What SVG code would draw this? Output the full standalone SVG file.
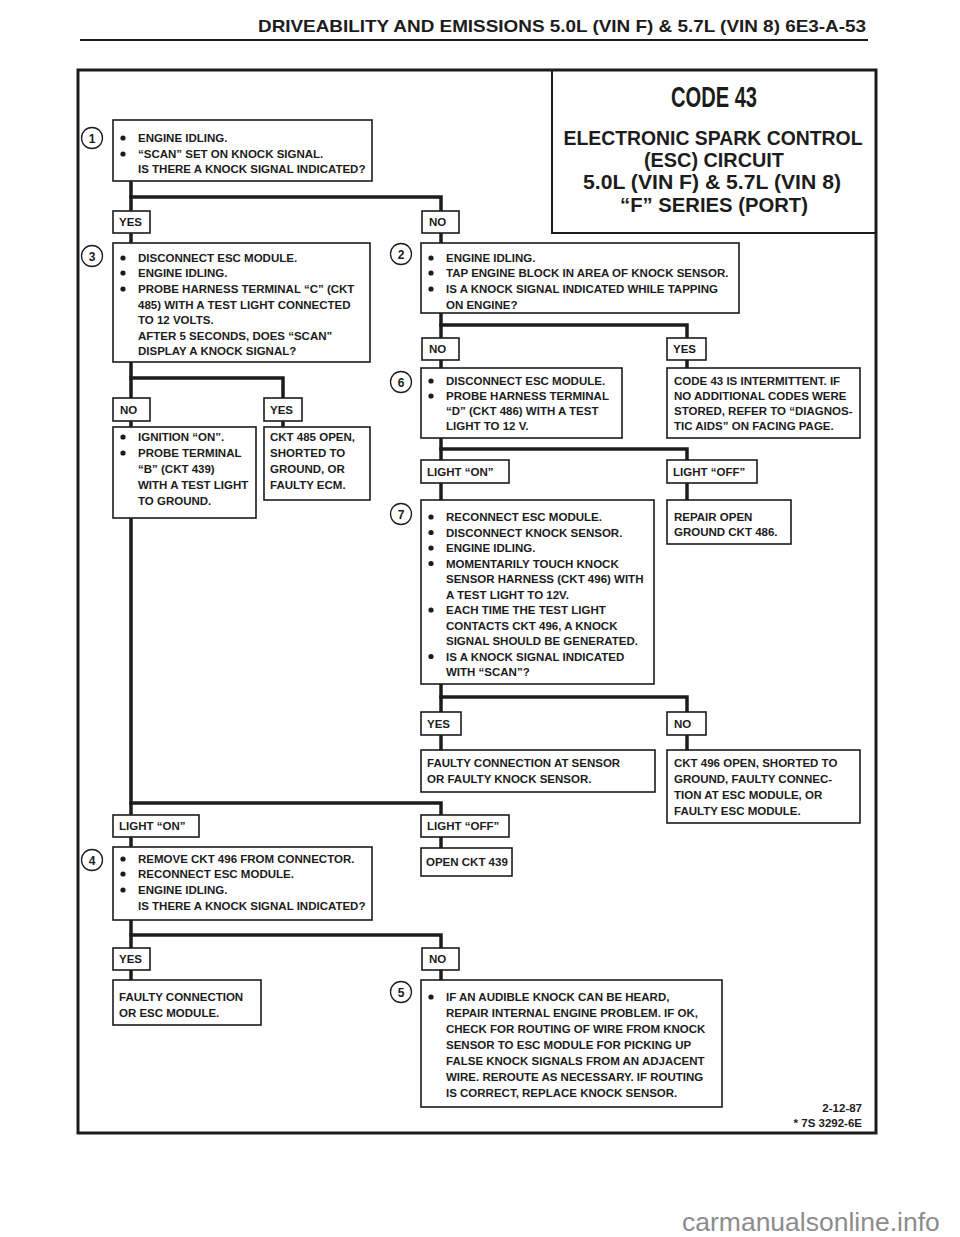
<svg xmlns="http://www.w3.org/2000/svg" width="960" height="1237" viewBox="0 0 960 1237">
<style>
.t{font-family:"Liberation Sans",Arial,sans-serif;font-weight:700;font-size:11.5px;fill:#1c1c1c}
.ti{font-family:"Liberation Sans",Arial,sans-serif;font-weight:700;fill:#1c1c1c;text-anchor:middle}
.n{font-family:"Liberation Sans",Arial,sans-serif;font-weight:700;font-size:12px;fill:#1c1c1c;text-anchor:middle}
.box{fill:#fff;stroke:#1c1c1c;stroke-width:1.6}
.lab{fill:#fff;stroke:#1c1c1c;stroke-width:1.6}
.num{fill:#fff;stroke:#1c1c1c;stroke-width:1.3}
.b{fill:#1c1c1c}
.c{fill:none;stroke:#1c1c1c;stroke-width:3.5;stroke-linecap:square}
</style>
<rect width="960" height="1237" fill="#fff"/>
<g id="header">
<text class="ti" x="562" y="32" font-size="17" textLength="608" lengthAdjust="spacingAndGlyphs">DRIVEABILITY AND EMISSIONS 5.0L (VIN F) &amp; 5.7L (VIN 8) 6E3-A-53</text>
<line x1="80" y1="40" x2="868" y2="40" stroke="#1c1c1c" stroke-width="2"/>
</g>
<rect x="78" y="70" width="798" height="1063" fill="none" stroke="#1c1c1c" stroke-width="3"/>
<g id="title">
<polyline points="552,70 552,233 876,233" fill="none" stroke="#1c1c1c" stroke-width="2"/>
<text class="ti" x="714" y="107" font-size="29" textLength="86" lengthAdjust="spacingAndGlyphs">CODE 43</text>
<text class="ti" x="713" y="145" font-size="21" textLength="299" lengthAdjust="spacingAndGlyphs">ELECTRONIC SPARK CONTROL</text>
<text class="ti" x="714" y="167" font-size="20" textLength="140" lengthAdjust="spacingAndGlyphs">(ESC) CIRCUIT</text>
<text class="ti" x="712" y="189" font-size="20" textLength="258" lengthAdjust="spacingAndGlyphs">5.0L (VIN F)  &amp;  5.7L (VIN 8)</text>
<text class="ti" x="714" y="212" font-size="20" textLength="188" lengthAdjust="spacingAndGlyphs">“F”  SERIES  (PORT)</text>
</g>
<g id="connectors">
<polyline class="c" points="131,181 131,211"/>
<polyline class="c" points="131,197 441,197 441,211"/>
<line class="c" x1="131" y1="233" x2="131" y2="243"/>
<line class="c" x1="441" y1="233" x2="441" y2="243"/>
<polyline class="c" points="131,362 131,398"/>
<polyline class="c" points="131,378 283,378 283,398"/>
<line class="c" x1="131" y1="421" x2="131" y2="427"/>
<line class="c" x1="283" y1="421" x2="283" y2="427"/>
<polyline class="c" points="441,313 441,338"/>
<polyline class="c" points="441,325 687,325 687,338"/>
<line class="c" x1="441" y1="360" x2="441" y2="368"/>
<line class="c" x1="687" y1="360" x2="687" y2="368"/>
<polyline class="c" points="441,438 441,460"/>
<polyline class="c" points="441,449 687,449 687,460"/>
<line class="c" x1="441" y1="483" x2="441" y2="500"/>
<line class="c" x1="687" y1="483" x2="687" y2="500"/>
<polyline class="c" points="441,684 441,712"/>
<polyline class="c" points="441,697 687,697 687,712"/>
<line class="c" x1="441" y1="735" x2="441" y2="750"/>
<line class="c" x1="687" y1="735" x2="687" y2="750"/>
<polyline class="c" points="131,518 131,815"/>
<polyline class="c" points="131,803 441,803 441,815"/>
<line class="c" x1="131" y1="837" x2="131" y2="847"/>
<line class="c" x1="441" y1="837" x2="441" y2="848"/>
<polyline class="c" points="131,920 131,948"/>
<polyline class="c" points="131,935 441,935 441,948"/>
<line class="c" x1="131" y1="970" x2="131" y2="980"/>
<line class="c" x1="441" y1="970" x2="441" y2="980"/>
</g>
<g id="step1">
<rect class="box" x="113" y="120" width="259" height="61"/>
<circle class="num" cx="92" cy="138" r="10.5"/><text class="n" x="92" y="142.5">1</text>
<circle class="b" cx="123" cy="138" r="2.6"/><circle class="b" cx="123" cy="154" r="2.6"/>
<text class="t" x="138" y="142">ENGINE IDLING.</text>
<text class="t" x="138" y="158">“SCAN” SET ON KNOCK SIGNAL.</text>
<text class="t" x="138" y="173">IS THERE A KNOCK SIGNAL INDICATED?</text>
</g>
<g id="l1yes"><rect class="lab" x="113" y="211" width="37" height="22"/><text class="t" x="119" y="226">YES</text></g>
<g id="l1no"><rect class="lab" x="422" y="211" width="37" height="22"/><text class="t" x="429" y="226">NO</text></g>
<g id="step3">
<rect class="box" x="113" y="243" width="257" height="119"/>
<circle class="num" cx="92" cy="256" r="10.5"/><text class="n" x="92" y="260.5">3</text>
<circle class="b" cx="123" cy="258" r="2.6"/><circle class="b" cx="123" cy="273" r="2.6"/><circle class="b" cx="123" cy="289" r="2.6"/>
<text class="t" x="138" y="262">DISCONNECT ESC MODULE.</text>
<text class="t" x="138" y="277">ENGINE IDLING.</text>
<text class="t" x="138" y="293">PROBE HARNESS TERMINAL “C”  (CKT</text>
<text class="t" x="138" y="309">485) WITH A TEST LIGHT CONNECTED</text>
<text class="t" x="138" y="324">TO 12 VOLTS.</text>
<text class="t" x="138" y="340">AFTER 5 SECONDS, DOES “SCAN”</text>
<text class="t" x="138" y="355">DISPLAY A KNOCK SIGNAL?</text>
</g>
<g id="step2">
<rect class="box" x="421" y="243" width="318" height="70"/>
<circle class="num" cx="401" cy="254" r="10.5"/><text class="n" x="401" y="258.5">2</text>
<circle class="b" cx="431" cy="258" r="2.6"/><circle class="b" cx="431" cy="273" r="2.6"/><circle class="b" cx="431" cy="289" r="2.6"/>
<text class="t" x="446" y="262">ENGINE IDLING.</text>
<text class="t" x="446" y="277">TAP ENGINE BLOCK IN AREA OF KNOCK SENSOR.</text>
<text class="t" x="446" y="293">IS A KNOCK SIGNAL INDICATED WHILE TAPPING</text>
<text class="t" x="446" y="309">ON ENGINE?</text>
</g>
<g id="l2no"><rect class="lab" x="422" y="338" width="37" height="22"/><text class="t" x="429" y="353">NO</text></g>
<g id="l2yes"><rect class="lab" x="667" y="338" width="39" height="22"/><text class="t" x="673" y="353">YES</text></g>
<g id="step6">
<rect class="box" x="421" y="368" width="201" height="70"/>
<circle class="num" cx="401" cy="382" r="10.5"/><text class="n" x="401" y="386.5">6</text>
<circle class="b" cx="431" cy="381" r="2.6"/><circle class="b" cx="431" cy="396" r="2.6"/>
<text class="t" x="446" y="385">DISCONNECT ESC MODULE.</text>
<text class="t" x="446" y="400">PROBE HARNESS TERMINAL</text>
<text class="t" x="446" y="415">“D” (CKT 486) WITH A TEST</text>
<text class="t" x="446" y="430">LIGHT TO 12 V.</text>
</g>
<g id="intermittent">
<rect class="box" x="667" y="368" width="193" height="70"/>
<text class="t" x="674" y="385">CODE 43 IS INTERMITTENT.  IF</text>
<text class="t" x="674" y="400">NO ADDITIONAL CODES WERE</text>
<text class="t" x="674" y="415">STORED, REFER TO “DIAGNOS-</text>
<text class="t" x="674" y="430">TIC AIDS” ON FACING PAGE.</text>
</g>
<g id="l3no"><rect class="lab" x="113" y="398" width="37" height="23"/><text class="t" x="120" y="414">NO</text></g>
<g id="l3yes"><rect class="lab" x="264" y="398" width="38" height="23"/><text class="t" x="270" y="414">YES</text></g>
<g id="ignition">
<rect class="box" x="113" y="427" width="143" height="91"/>
<circle class="b" cx="123" cy="437" r="2.6"/><circle class="b" cx="123" cy="453" r="2.6"/>
<text class="t" x="138" y="441">IGNITION “ON”.</text>
<text class="t" x="138" y="457">PROBE TERMINAL</text>
<text class="t" x="138" y="473">“B” (CKT 439)</text>
<text class="t" x="138" y="489">WITH A TEST LIGHT</text>
<text class="t" x="138" y="505">TO GROUND.</text>
</g>
<g id="ckt485">
<rect class="box" x="264" y="427" width="106" height="73"/>
<text class="t" x="270" y="441">CKT 485 OPEN,</text>
<text class="t" x="270" y="457">SHORTED TO</text>
<text class="t" x="270" y="473">GROUND, OR</text>
<text class="t" x="270" y="489">FAULTY ECM.</text>
</g>
<g id="l6on"><rect class="lab" x="421" y="460" width="88" height="23"/><text class="t" x="427" y="476">LIGHT “ON”</text></g>
<g id="l6off"><rect class="lab" x="667" y="460" width="90" height="23"/><text class="t" x="673" y="476">LIGHT “OFF”</text></g>
<g id="step7">
<rect class="box" x="421" y="500" width="233" height="184"/>
<circle class="num" cx="401" cy="514" r="10.5"/><text class="n" x="401" y="518.5">7</text>
<circle class="b" cx="431" cy="517" r="2.6"/><circle class="b" cx="431" cy="532.5" r="2.6"/><circle class="b" cx="431" cy="548" r="2.6"/><circle class="b" cx="431" cy="563.5" r="2.6"/><circle class="b" cx="431" cy="610" r="2.6"/><circle class="b" cx="431" cy="656.5" r="2.6"/>
<text class="t" x="446" y="521">RECONNECT ESC MODULE.</text>
<text class="t" x="446" y="536.5">DISCONNECT KNOCK SENSOR.</text>
<text class="t" x="446" y="552">ENGINE IDLING.</text>
<text class="t" x="446" y="567.5">MOMENTARILY TOUCH KNOCK</text>
<text class="t" x="446" y="583">SENSOR HARNESS (CKT 496) WITH</text>
<text class="t" x="446" y="598.5">A TEST LIGHT TO 12V.</text>
<text class="t" x="446" y="614">EACH TIME THE TEST LIGHT</text>
<text class="t" x="446" y="629.5">CONTACTS CKT 496, A KNOCK</text>
<text class="t" x="446" y="645">SIGNAL SHOULD BE GENERATED.</text>
<text class="t" x="446" y="660.5">IS A KNOCK SIGNAL INDICATED</text>
<text class="t" x="446" y="676">WITH “SCAN”?</text>
</g>
<g id="repair486">
<rect class="box" x="667" y="500" width="124" height="44"/>
<text class="t" x="674" y="521">REPAIR OPEN</text>
<text class="t" x="674" y="536">GROUND CKT 486.</text>
</g>
<g id="l7yes"><rect class="lab" x="421" y="712" width="40" height="23"/><text class="t" x="427" y="728">YES</text></g>
<g id="l7no"><rect class="lab" x="667" y="712" width="39" height="23"/><text class="t" x="674" y="728">NO</text></g>
<g id="faultysensor">
<rect class="box" x="421" y="750" width="234" height="42"/>
<text class="t" x="427" y="767">FAULTY CONNECTION AT SENSOR</text>
<text class="t" x="427" y="783">OR FAULTY KNOCK SENSOR.</text>
</g>
<g id="ckt496">
<rect class="box" x="667" y="750" width="193" height="73"/>
<text class="t" x="674" y="767">CKT 496 OPEN, SHORTED TO</text>
<text class="t" x="674" y="783">GROUND, FAULTY CONNEC-</text>
<text class="t" x="674" y="799">TION AT ESC MODULE, OR</text>
<text class="t" x="674" y="815">FAULTY ESC MODULE.</text>
</g>
<g id="l4on"><rect class="lab" x="113" y="815" width="86" height="22"/><text class="t" x="119" y="830">LIGHT “ON”</text></g>
<g id="l4off"><rect class="lab" x="421" y="815" width="88" height="22"/><text class="t" x="427" y="830">LIGHT “OFF”</text></g>
<g id="step4">
<rect class="box" x="113" y="847" width="259" height="73"/>
<circle class="num" cx="92" cy="860" r="10.5"/><text class="n" x="92" y="864.5">4</text>
<circle class="b" cx="123" cy="859" r="2.6"/><circle class="b" cx="123" cy="874" r="2.6"/><circle class="b" cx="123" cy="890" r="2.6"/>
<text class="t" x="138" y="863">REMOVE CKT 496 FROM CONNECTOR.</text>
<text class="t" x="138" y="878">RECONNECT ESC MODULE.</text>
<text class="t" x="138" y="894">ENGINE IDLING.</text>
<text class="t" x="138" y="910">IS THERE A KNOCK SIGNAL INDICATED?</text>
</g>
<g id="openckt439">
<rect class="box" x="421" y="848" width="91" height="28"/>
<text class="t" x="426" y="866">OPEN CKT 439</text>
</g>
<g id="l8yes"><rect class="lab" x="113" y="948" width="37" height="22"/><text class="t" x="119" y="963">YES</text></g>
<g id="l8no"><rect class="lab" x="422" y="948" width="37" height="22"/><text class="t" x="429" y="963">NO</text></g>
<g id="faultyesc">
<rect class="box" x="113" y="980" width="148" height="45"/>
<text class="t" x="119" y="1001">FAULTY CONNECTION</text>
<text class="t" x="119" y="1017">OR ESC MODULE.</text>
</g>
<g id="step5">
<rect class="box" x="421" y="980" width="301" height="127"/>
<circle class="num" cx="401" cy="992" r="10.5"/><text class="n" x="401" y="996.5">5</text>
<circle class="b" cx="431" cy="997" r="2.6"/>
<text class="t" x="446" y="1001">IF AN AUDIBLE KNOCK CAN BE HEARD,</text>
<text class="t" x="446" y="1017">REPAIR INTERNAL ENGINE PROBLEM.  IF OK,</text>
<text class="t" x="446" y="1033">CHECK FOR ROUTING OF WIRE FROM KNOCK</text>
<text class="t" x="446" y="1049">SENSOR TO ESC MODULE FOR PICKING UP</text>
<text class="t" x="446" y="1065">FALSE KNOCK SIGNALS FROM AN ADJACENT</text>
<text class="t" x="446" y="1081">WIRE.  REROUTE AS NECESSARY.  IF ROUTING</text>
<text class="t" x="446" y="1097">IS CORRECT, REPLACE KNOCK SENSOR.</text>
</g>
<g id="footer">
<text class="t" x="862" y="1112" text-anchor="end">2-12-87</text>
<text class="t" x="862" y="1127" text-anchor="end">* 7S 3292-6E</text>
</g>
<text x="682" y="1231" font-family="Liberation Sans,Arial,sans-serif" font-size="26.5" fill="#8c8c8c">carmanualsonline.info</text>
</svg>
